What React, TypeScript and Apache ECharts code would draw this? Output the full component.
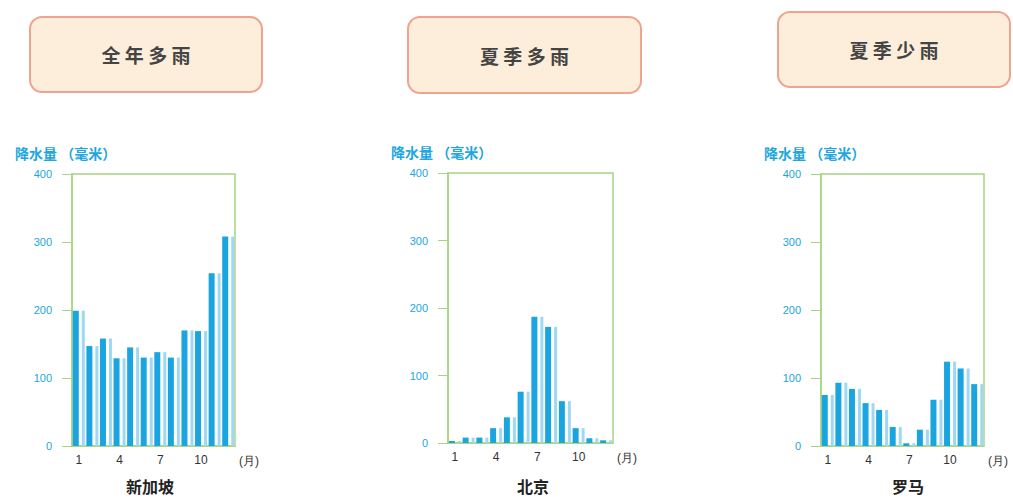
import React, { useEffect, useRef } from "react";
import * as echarts from "echarts";

const months = ["1", "2", "3", "4", "5", "6", "7", "8", "9", "10", "11", "12"];
const yTicks = [0, 100, 200, 300, 400];
const singapore = [199, 147, 158, 129, 145, 130, 138, 130, 170, 169, 254, 308];
const beijing = [3, 8, 8, 22, 38, 76, 187, 172, 62, 22, 7, 4];
const rome = [75, 93, 84, 63, 53, 28, 4, 24, 68, 124, 114, 91];
const cities = ["新加坡", "北京", "罗马"];
const headings = ["全 年 多 雨", "夏 季 多 雨", "夏 季 少 雨"];
const yName = "降水量 （毫米）";
const monthUnit = "(月)";

const grids = [
  { left: 72, top: 174, width: 163, height: 272 },
  { left: 448, top: 173, width: 165, height: 270 },
  { left: 821, top: 174, width: 163, height: 272 },
];
const boxes = [
  { x: 30, y: 17, w: 232, h: 75 },
  { x: 408, y: 17, w: 233, h: 76 },
  { x: 778, y: 12, w: 232, h: 75 },
];
const cityX = [150, 533, 908];
const seriesData = [singapore, beijing, rome];

const GREEN = "#a9d483";
const CYAN = "#21a6e0";

export default function App() {
  const ref = useRef<HTMLDivElement>(null);
  useEffect(() => {
    if (!ref.current) return;
    const chart = echarts.init(ref.current, undefined, { renderer: "svg" });
    const xAxis: any[] = [];
    const yAxis: any[] = [];
    const series: any[] = [];
    const graphic: any[] = [];
    grids.forEach((g, i) => {
      xAxis.push({
        type: "category",
        gridIndex: i,
        data: months,
        axisLine: { lineStyle: { color: GREEN, width: 1.5 } },
        axisTick: { show: false },
        axisLabel: {
          interval: (idx: number) => idx % 3 === 0,
          color: "#333",
          fontSize: 12,
          margin: 8,
          fontFamily: "Liberation Sans",
        },
        name: monthUnit,
        nameLocation: "end",
        nameGap: 4,
        nameTextStyle: {
          color: "#333",
          fontSize: 12,
          verticalAlign: "top",
          padding: [9, 0, 0, 0],
        },
      });
      yAxis.push({
        type: "value",
        gridIndex: i,
        min: 0,
        max: 400,
        interval: 100,
        axisLine: { show: true, lineStyle: { color: GREEN, width: 1.5 } },
        axisTick: { show: true, length: 10, lineStyle: { color: GREEN } },
        splitLine: { show: false },
        axisLabel: {
          color: CYAN,
          fontSize: 11,
          margin: 20,
          fontFamily: "Liberation Sans",
          formatter: (v: number) => (yTicks.includes(v) ? String(v) : ""),
        },
      });
      series.push({
        type: "bar",
        xAxisIndex: i,
        yAxisIndex: i,
        data: seriesData[i],
        barWidth: 6,
        barGap: "50%",
        itemStyle: { color: "#1ba5e0" },
      });
      series.push({
        type: "bar",
        xAxisIndex: i,
        yAxisIndex: i,
        data: seriesData[i],
        barWidth: 3,
        itemStyle: { color: "#9ed8f3" },
      });
      const b = boxes[i];
      graphic.push({
        type: "rect",
        shape: { x: b.x, y: b.y, width: b.w, height: b.h, r: 12 },
        style: { fill: "#fdeedb", stroke: "#eea48e", lineWidth: 2 },
      });
      graphic.push({
        type: "text",
        x: b.x + b.w / 2,
        y: b.y + b.h / 2,
        style: {
          text: headings[i],
          fill: "#444",
          font: "bold 19px 'Noto Sans CJK SC'",
          align: "center",
          verticalAlign: "middle",
        },
      });
      graphic.push({
        type: "text",
        x: g.left - 57,
        y: g.top - 21,
        style: {
          text: yName,
          fill: CYAN,
          font: "bold 14px 'Noto Sans CJK SC'",
          align: "left",
          verticalAlign: "middle",
        },
      });
      graphic.push({
        type: "text",
        x: cityX[i],
        y: 486,
        style: {
          text: cities[i],
          fill: "#222",
          font: "bold 16px 'Noto Sans CJK SC'",
          align: "center",
          verticalAlign: "middle",
        },
      });
    });
    chart.setOption({
      animation: false,
      backgroundColor: "#ffffff",
      grid: grids.map((g) => ({
        ...g,
        show: true,
        borderColor: GREEN,
        borderWidth: 1.5,
        backgroundColor: "transparent",
      })),
      xAxis,
      yAxis,
      series,
      graphic,
    });
    return () => chart.dispose();
  }, []);
  return (
    <div
      ref={ref}
      style={{ position: "fixed", left: 0, top: 0, width: 1013, height: 499 }}
    />
  );
}
